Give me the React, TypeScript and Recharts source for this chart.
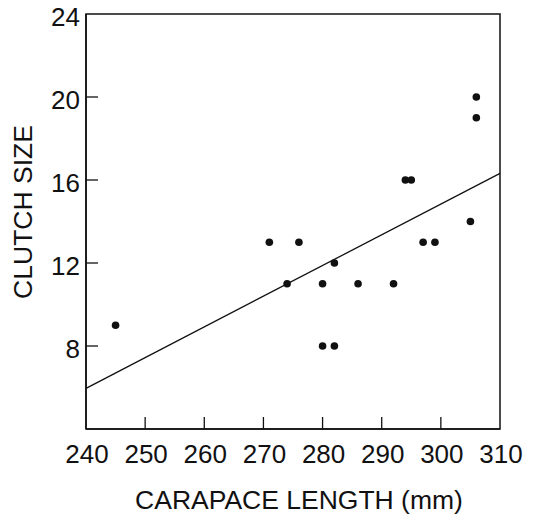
import { ReferenceArea, ReferenceLine, Scatter, ScatterChart, XAxis, YAxis } from "recharts";

const carapaceLength = [245, 271, 274, 276, 280, 280, 282, 282, 286, 292, 294, 295, 297, 299, 305, 306, 306];
const clutchSize = [9, 13, 11, 13, 11, 8, 12, 8, 11, 11, 16, 16, 13, 13, 14, 19, 20];

const fitX = [240, 310];
const fitY = [5.96, 16.32];

const xTicks = [240, 250, 260, 270, 280, 290, 300, 310];
const yTicks = [8, 12, 16, 20, 24];

const font = "'Liberation Sans', Arial, Helvetica, sans-serif";
const ink = "#111";

const points = carapaceLength.map((x, i) => ({ x, y: clutchSize[i] }));

// ticks point inward, labels sit outside the frame
const XTick = (props: any) => {
  const { x, y, payload } = props;
  const edge = payload.value === 240 || payload.value === 310;
  return (
    <g>
      {!edge && <line x1={x} x2={x} y1={y} y2={y - 12} stroke={ink} strokeWidth={1.3} />}
      <text x={x + 1} y={y + 34} textAnchor="middle" fontSize={26} fontFamily={font} fill={ink}>
        {payload.value}
      </text>
    </g>
  );
};

const YTick = (props: any) => {
  const { x, y, payload } = props;
  const edge = payload.value === 24;
  return (
    <g>
      {!edge && <line x1={x} x2={x + 12} y1={y} y2={y} stroke={ink} strokeWidth={1.3} />}
      <text x={x - 6} y={y + 12} textAnchor="end" fontSize={26} fontFamily={font} fill={ink}>
        {payload.value}
      </text>
    </g>
  );
};

export default function App() {
  return (
    <div style={{ position: "absolute", left: 0, top: 0, background: "#fff" }}>
      <ScatterChart width={536} height={515} margin={{ top: 14, right: 36, bottom: 6, left: 0 }}>
        <XAxis
          type="number"
          dataKey="x"
          domain={[240, 310]}
          ticks={xTicks}
          interval={0}
          height={80}
          tickSize={0}
          tickMargin={0}
          tickLine={false}
          axisLine={{ stroke: ink, strokeWidth: 1.5 }}
          tick={<XTick />}
          label={{
            content: (p: any) => (
              <text
                x={p.viewBox.x + p.viewBox.width / 2 + 6}
                y={p.viewBox.y + 80}
                textAnchor="middle"
                fontSize={26.5}
                fontFamily={font}
                fill={ink}
              >
                CARAPACE LENGTH (mm)
              </text>
            )
          }}
        />
        <YAxis
          type="number"
          dataKey="y"
          domain={[4, 24]}
          ticks={yTicks}
          interval={0}
          width={86}
          tickSize={0}
          tickMargin={0}
          tickLine={false}
          axisLine={{ stroke: ink, strokeWidth: 1.5 }}
          tick={<YTick />}
          label={{
            content: () => (
              <text
                x={23}
                y={212}
                transform="rotate(-90, 23, 212)"
                textAnchor="middle"
                dominantBaseline="central"
                fontSize={26.5}
                fontFamily={font}
                fill={ink}
              >
                CLUTCH SIZE
              </text>
            )
          }}
        />
        <ReferenceArea x1={240} x2={310} y1={4} y2={24} fill="none" stroke={ink} strokeWidth={1.5} ifOverflow="visible" />
        <ReferenceLine
          segment={[
            { x: fitX[0], y: fitY[0] },
            { x: fitX[1], y: fitY[1] }
          ]}
          stroke={ink}
          strokeWidth={1.3}
          ifOverflow="visible"
        />
        <Scatter data={points} fill={ink} isAnimationActive={false} shape={(p: any) => <circle cx={p.cx} cy={p.cy} r={3.8} fill={ink} />} />
      </ScatterChart>
    </div>
  );
}
